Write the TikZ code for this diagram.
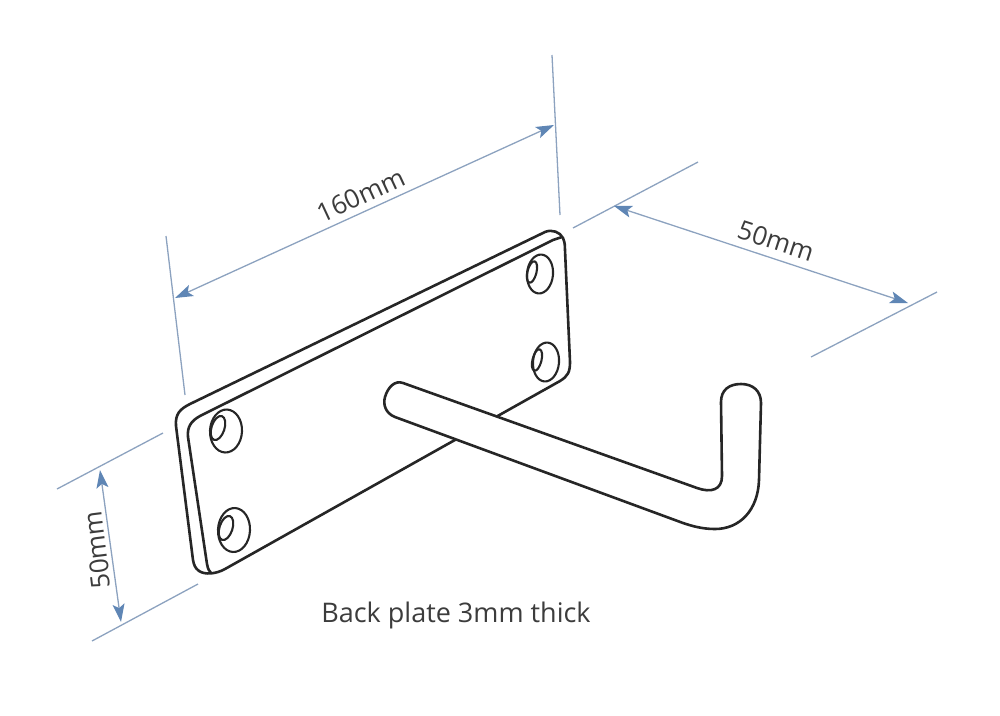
\documentclass[tikz,border=0pt]{standalone}
\usepackage{fontspec}
\setmainfont{Open Sans}
\usetikzlibrary{arrows.meta,shapes.geometric}
\definecolor{dimblue}{HTML}{8CA2BF}
\definecolor{tipblue}{HTML}{5F86B5}
\definecolor{labelgrey}{HTML}{3C3C3C}
\tikzstyle{part} = [draw=black!85, line width=2.6pt, line join=round]
\tikzstyle{hole} = [part, line width=2.1pt, ellipse, inner sep=0pt]
\tikzstyle{extline} = [draw=dimblue, line width=1.3pt]
\tikzstyle{dimline} = [extline, {Stealth[length=18pt,width=12pt,inset=4pt,color=tipblue]}-{Stealth[length=18pt,width=12pt,inset=4pt,color=tipblue]}]
\tikzstyle{dimtext} = [text=labelgrey, font=\fontsize{26}{30}\selectfont, inner sep=0pt]

\begin{document}
\begin{tikzpicture}[x=1pt, y=-1pt]
\useasboundingbox (0,0) rectangle (1000,715);

% dimension lines
\coordinate (wa) at (166,236);
\coordinate (wb) at (185,395);
\coordinate (wc) at (552,55);
\coordinate (wd) at (560,215);
\coordinate (warrowl) at (175,298);
\coordinate (warrowr) at (554,125);
\draw [extline] (wa) -- (wb);
\draw [extline] (wc) -- (wd);
\draw [dimline] (warrowl) -- (warrowr);
\node [dimtext, rotate=25] (width) at (361,195) {160mm};

\coordinate (da) at (573,228);
\coordinate (db) at (698,162);
\coordinate (dc) at (811,357);
\coordinate (dd) at (937,292);
\coordinate (darrowl) at (614,206);
\coordinate (darrowr) at (908,303);
\draw [extline] (da) -- (db);
\draw [extline] (dc) -- (dd);
\draw [dimline] (darrowl) -- (darrowr);
\node [dimtext, rotate=-18] (depth) at (776,241) {50mm};

\coordinate (ha) at (57,489);
\coordinate (hb) at (163,433);
\coordinate (hc) at (92,641);
\coordinate (hd) at (198,584);
\coordinate (harrowt) at (100,470);
\coordinate (harrowb) at (121,622);
\draw [extline] (ha) -- (hb);
\draw [extline] (hc) -- (hd);
\draw [dimline] (harrowt) -- (harrowb);
\node [dimtext, rotate=97] (height) at (97,550) {50mm};

% back plate
\draw [part] (176,426) .. controls (175,414) and (180,409) .. (190,404)
  -- (545,232) .. controls (552,229) and (560,232) .. (563,238)
  .. controls (565,243) and (565,246) .. (565,250)
  -- (570,362) .. controls (570,372) and (568,376) .. (560,381)
  -- (225,569) .. controls (216,574) and (205,575) .. (199,571)
  .. controls (195,568) and (194,565) .. (193,560) -- cycle;
\draw [part] (211,573) .. controls (209,571) and (208,569) .. (207,564)
  -- (188,437) .. controls (187,427) and (191,421) .. (200,416)
  -- (553,240) -- (562,237);

% holes
\node [hole, minimum width=32pt, minimum height=43pt, rotate=-3] (hole1) at (226,431) {};
\node [hole, minimum width=13pt, minimum height=25pt, rotate=-18] (screw1) at (218,428) {};
\node [hole, minimum width=32pt, minimum height=44pt, rotate=-3] (hole2) at (234,530) {};
\node [hole, minimum width=13pt, minimum height=25pt, rotate=-18] (screw2) at (226,528) {};
\node [hole, minimum width=26pt, minimum height=39pt, rotate=-5] (hole3) at (540,274) {};
\node [hole, minimum width=9pt, minimum height=22pt, rotate=-14] (screw3) at (532,272) {};
\node [hole, minimum width=26pt, minimum height=39pt, rotate=-5] (hole4) at (546,362) {};
\node [hole, minimum width=9pt, minimum height=22pt, rotate=-14] (screw4) at (537,360) {};

% hook
\draw [part, fill=white] (403,383) -- (697,488)
  .. controls (711,493) and (722,490) .. (722,476)
  -- (721,402) .. controls (721,390) and (729,384) .. (741,384)
  .. controls (753,384) and (761,391) .. (761,403)
  -- (759,480) .. controls (758,510) and (740,529) .. (715,529)
  .. controls (702,529) and (692,526) .. (683,523)
  -- (395,417) .. controls (385,413) and (383,404) .. (385,397)
  .. controls (388,387) and (395,380) .. (403,383) -- cycle;

\node [dimtext, font=\fontsize{27}{30}\selectfont] (note) at (456,615) {Back plate 3mm thick};
\end{tikzpicture}
\end{document}
